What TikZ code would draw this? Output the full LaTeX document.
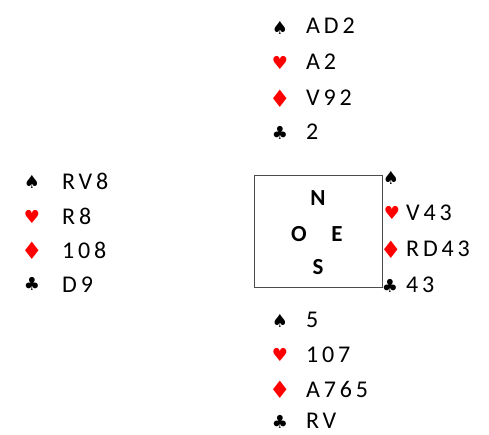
\documentclass[tikz,border=0pt]{standalone}
\usepackage{fontspec}
\setmainfont{Carlito}
\newfontfamily\suitfont{DejaVu Sans}
\usepackage{tikz}

\tikzset{
  cards/.style={anchor=west, inner sep=0pt,
    font=\fontsize{24}{28}\selectfont\addfontfeatures{LetterSpace=16}},
  suit/.style={inner sep=0pt, font=\suitfont\fontsize{18}{20}\selectfont},
  diam/.style={suit, red, font=\suitfont\fontsize{24}{26}\selectfont},
  compass/.style={inner sep=0pt, font=\fontsize{23}{26}\selectfont\bfseries}
}

\begin{document}
\begin{tikzpicture}[x=1pt, y=-1pt]
  \useasboundingbox (0,0) rectangle (489,434);

  % Nord
  \node [suit] (ns) at (280,28) {♠};
  \node [suit, red] (nh) at (280,63) {♥};
  \node [diam] (nd) at (280,99) {♦};
  \node [suit] (nc) at (280,133) {♣};
  \node [cards] (nst) at (306,26) {AD2};
  \node [cards] (nht) at (306,62) {A2};
  \node [cards] (ndt) at (306,98) {V92};
  \node [cards] (nct) at (306,132) {2};

  % Ouest
  \node [suit] (ws) at (32,182) {♠};
  \node [suit, red] (wh) at (32,217) {♥};
  \node [diam] (wd) at (32,251) {♦};
  \node [suit] (wc) at (32,284) {♣};
  \node [cards] (wst) at (62,181) {RV8};
  \node [cards] (wht) at (62,216) {R8};
  \node [cards] (wdt) at (62,250) {108};
  \node [cards] (wct) at (62,285) {D9};

  % table
  \draw [gray!60!black, line width=0.9pt] (254,175) rectangle (382,287);
  \node [compass] (n) at (318,198) {N};
  \node [compass] (o) at (299,234) {O};
  \node [compass] (e) at (337,234) {E};
  \node [compass] (s) at (318,267) {S};

  % Est
  \node [suit] (es) at (391,178) {♠};
  \node [suit, red] (eh) at (392,213) {♥};
  \node [diam] (ed) at (391,250) {♦};
  \node [suit] (ec) at (390,286) {♣};
  \node [cards] (eht) at (406,213) {V43};
  \node [cards] (edt) at (406,249) {RD43};
  \node [cards] (ect) at (406,285) {43};

  % Sud
  \node [suit] (ss) at (280,321) {♠};
  \node [suit, red] (sh) at (280,355) {♥};
  \node [diam] (sd) at (280,390) {♦};
  \node [suit] (sc) at (280,422) {♣};
  \node [cards] (sst) at (306,320) {5};
  \node [cards] (sht) at (306,355) {107};
  \node [cards] (sdt) at (306,389) {A765};
  \node [cards] (sct) at (306,421) {RV};
\end{tikzpicture}
\end{document}
